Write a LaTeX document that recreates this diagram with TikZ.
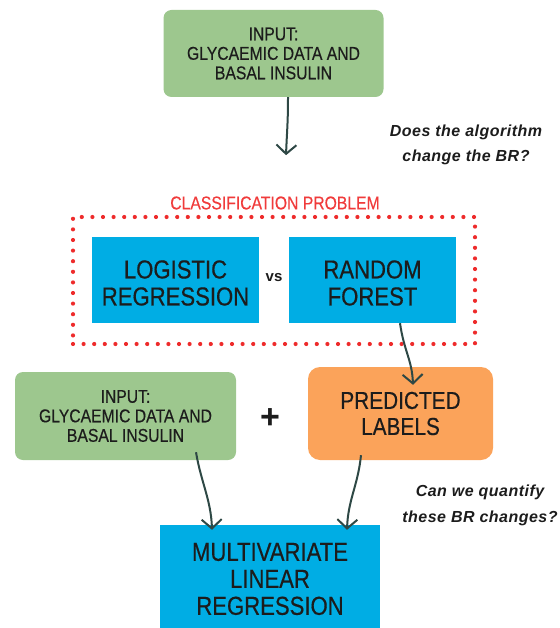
\documentclass[tikz,border=0pt]{standalone}
\usepackage{fontspec}
\setmainfont{Liberation Sans}
\newfontfamily\nar[FakeStretch=0.85,FakeBold=0.4]{Liberation Sans}
\newfontfamily\qfont[LetterSpace=3]{Liberation Sans}
\usetikzlibrary{arrows.meta,calc}
\definecolor{gbox}{HTML}{9DC78E}
\definecolor{bbox}{HTML}{00ADE4}
\definecolor{obox}{HTML}{FBA35A}
\definecolor{dotred}{HTML}{EE2B2B}
\definecolor{txtred}{HTML}{F03B3B}
\definecolor{txt}{HTML}{1C1C1C}
\definecolor{conncol}{HTML}{2E4845}
\begin{document}
\begin{tikzpicture}[x=1pt,y=-1pt,
  box/.style={inner sep=0pt, align=center, text=txt},
  greenbox/.style={box, fill=gbox, rounded corners=8pt, minimum width=220pt, minimum height=87pt,
    font=\nar\fontsize{18.5}{19.5}\selectfont},
  bluebox/.style={box, fill=bbox, minimum width=167pt, minimum height=86pt},
  bluetext/.style={box, font=\nar\fontsize{26}{27}\selectfont},
  orangebox/.style={box, fill=obox, rounded corners=12pt, minimum width=185pt, minimum height=93pt,
    font=\nar\fontsize{24.5}{26}\selectfont},
  dotframe/.style={draw=dotred, line width=4.2pt, line cap=round, dash pattern=on 0pt off 10.6pt,
    minimum width=402pt, minimum height=127pt, inner sep=0pt},
  question/.style={align=center, text=txt, font=\qfont\bfseries\itshape\fontsize{16}{25.5}\selectfont},
  conn/.style={draw=conncol, line width=2pt, -{Straight Barb[length=9pt,width=20pt,line width=2pt]}}
]
\useasboundingbox (0,0) rectangle (559,628);

\node[greenbox] (in1) at (273.5,53.5) {INPUT:\\GLYCAEMIC DATA AND\\BASAL INSULIN};
\node[question] (q1) at (466,145) {Does the algorithm\\change the BR?};

\node[text=txtred, font=\nar\fontsize{18.5}{20}\selectfont] (clslabel) at (275,203) {CLASSIFICATION PROBLEM};
\node[dotframe] (clsbox) at (274,280.5) {};
\node[bluebox] (lr) at (175.5,280) {};
\node[bluetext] (lrt) at ($(lr)+(0,3)$) {LOGISTIC\\REGRESSION};
\node[bluebox] (rf) at (372.5,280) {};
\node[bluetext] (rft) at ($(rf)+(0,3)$) {RANDOM\\FOREST};
\node[text=txt, font=\bfseries\fontsize{15}{16}\selectfont] (vs) at (274,278) {vs};

\node[greenbox, minimum width=221pt, minimum height=88pt] (in2) at (125.5,416) {INPUT:\\GLYCAEMIC DATA AND\\BASAL INSULIN};
\node[text=txt, font=\bfseries\fontsize{34}{34}\selectfont] (plus) at (270,419) {+};
\node[orangebox] (pl) at (400.5,413.5) {PREDICTED\\LABELS};

\node[question] (q2) at (480,505.5) {Can we quantify\\these BR changes?};
\node[bluebox, minimum width=220pt, minimum height=103pt] (mlr) at (270,576.5) {};
\node[bluetext] (mlrt) at ($(mlr)+(0,2.5)$) {MULTIVARIATE\\LINEAR\\REGRESSION};

\coordinate (e1) at ($(in1.south)+(12.5,58)$);
\draw[conn] ($(in1.south)+(14.5,0)$) .. controls +(0,25) and +(1,-25) .. (e1);
\draw[conn] ($(rf.south)+(27.5,0)$) .. controls +(4,28) and +(-1,-25) .. ($(pl.north)+(12.5,18)$);
\draw[conn] ($(in2.south)+(70.5,-8)$) .. controls +(5,30) and +(-1,-30) .. ($(mlr.north)+(-58,5)$);
\draw[conn] ($(pl.south)+(-39.5,-5)$) .. controls +(-3,30) and +(1,-30) .. ($(mlr.north)+(77,5)$);
\end{tikzpicture}
\end{document}
